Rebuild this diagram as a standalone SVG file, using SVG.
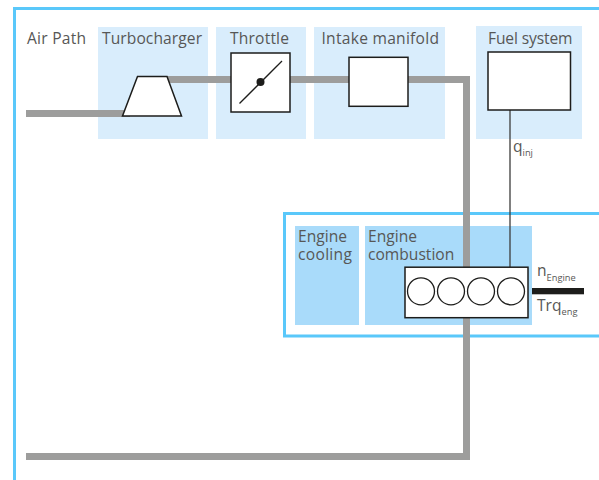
<svg xmlns="http://www.w3.org/2000/svg" width="599" height="480" viewBox="0 0 599 480">
<style>
text{font-family:"Open Sans","Noto Sans","Liberation Sans",sans-serif;font-size:15.6px;fill:#575756}
.sub{font-size:9.300px}
.p1{fill:#d9edfc}
.p2{fill:#a9dbfa}
.frame{fill:none;stroke:#5ac8fa;stroke-width:3}
.pipe{fill:none;stroke:#9d9d9c;stroke-width:7}
.box{fill:#fff;stroke:#1d1d1b;stroke-width:1.5}
.thin{fill:none;stroke:#1d1d1b;stroke-width:1.3}
</style>
<rect width="599" height="480" fill="#fff"/>
<path class="frame" d="M14.500 480V8.500H599"/>
<g id="panels">
<rect class="p1" x="98" y="27" width="110" height="112"/>
<rect class="p1" x="216" y="27" width="90" height="112"/>
<rect class="p1" x="314" y="27" width="131" height="112"/>
<rect class="p1" x="476" y="26" width="106" height="113"/>
</g>
<g id="engine-frame">
<path class="frame" d="M599 213.500H284.500V336H599"/>
<rect class="p2" x="295" y="226" width="64" height="99"/>
<rect class="p2" x="365" y="226" width="167" height="99"/>
</g>
<g id="connectors">
<path class="pipe" d="M26 113.500H130M165 79.500H466.500V456.500H26"/>
<path d="M510 110V267" fill="none" stroke="#3c3c3b" stroke-width="1.300"/>
</g>
<text x="27" y="44" textLength="59">Air Path</text>
<g id="turbocharger">
<text x="102" y="44" textLength="100">Turbocharger</text>
<path class="box" d="M137.500 76.500H167L181.500 116H122.500Z"/>
</g>
<g id="throttle">
<text x="230" y="44" textLength="59">Throttle</text>
<rect class="box" x="231" y="53" width="59" height="59"/>
<path class="thin" d="M239.500 103.500L282 61"/>
<circle cx="260.500" cy="82" r="4" fill="#1d1d1b"/>
</g>
<g id="intake-manifold">
<text x="321.500" y="44" textLength="117.500">Intake manifold</text>
<rect class="box" x="349" y="57.300" width="59" height="49"/>
</g>
<g id="fuel-system">
<text x="488" y="44" textLength="84.500">Fuel system</text>
<rect class="box" x="488" y="52" width="82.500" height="58" stroke-width="2"/>
<text x="513" y="152">q<tspan class="sub" dy="4">inj</tspan></text>
</g>
<g id="engine-cooling">
<text><tspan x="298" y="242">Engine</tspan><tspan x="298" y="260" letter-spacing="0.300">cooling</tspan></text>
</g>
<g id="engine-combustion">
<text><tspan x="368" y="242">Engine</tspan><tspan x="368" y="260">combustion</tspan></text>
<rect class="box" x="405" y="267.200" width="123" height="50.500"/>
<circle class="thin" cx="421" cy="291.300" r="13.500"/>
<circle class="thin" cx="451" cy="291.300" r="13.500"/>
<circle class="thin" cx="481" cy="291.300" r="13.500"/>
<circle class="thin" cx="511" cy="291.300" r="13.500"/>
</g>
<g id="engine-output">
<rect x="532" y="288" width="52" height="6.300" fill="#1d1d1b"/>
<text x="537" y="276">n<tspan class="sub" dy="5">Engine</tspan></text>
<text x="537" y="311">Trq<tspan class="sub" dy="4">eng</tspan></text>
</g>
</svg>
